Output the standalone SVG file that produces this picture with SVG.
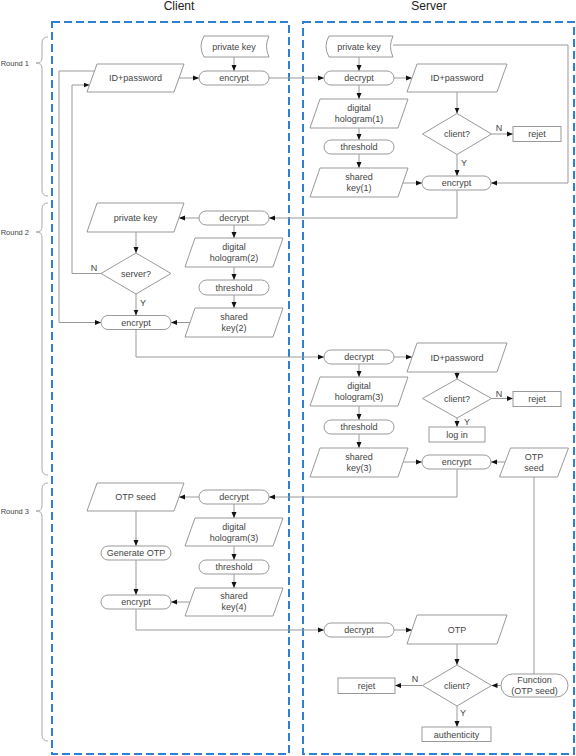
<svg xmlns="http://www.w3.org/2000/svg" width="576" height="756" viewBox="0 0 576 756">
<defs>
<style>
.s{fill:#fff;stroke:#999;stroke-width:1}
.t{font-family:"Liberation Sans",Arial,sans-serif;font-size:9px;fill:#444;text-anchor:middle}
.lb{font-family:"Liberation Sans",Arial,sans-serif;font-size:9px;fill:#444;text-anchor:middle}
.rd{font-family:"Liberation Sans",Arial,sans-serif;font-size:7.5px;fill:#444;text-anchor:end}
.ti{font-family:"Liberation Sans",Arial,sans-serif;font-size:12px;fill:#222;text-anchor:middle}
.c{fill:none;stroke:#999;stroke-width:1}
.br{fill:none;stroke:#aaa;stroke-width:1}
.lane{fill:none;stroke:#2f80d0;stroke-width:2;stroke-dasharray:8 4}
</style>
<marker id="ah" viewBox="0 0 6 6" refX="6" refY="3" markerWidth="6" markerHeight="6" markerUnits="userSpaceOnUse" orient="auto"><path d="M0,0.5 L6,3 L0,5.5 Z" fill="#111"/></marker>
</defs>
<rect width="576" height="756" fill="#fff"/>

<g id="lanes">
<rect class="lane" x="52" y="22" width="237" height="732"/>
<rect class="lane" x="303" y="22" width="271" height="732"/>
<text class="ti" x="179" y="10">Client</text>
<text class="ti" x="429" y="10">Server</text>
</g>

<g id="rounds">
<path class="br" d="M48,37 Q42,37 42,43 V58 Q42,63 36,63 Q42,63 42,68 V190 Q42,196 48,196"/>
<text class="rd" x="29" y="66">Round 1</text>
<path class="br" d="M48,203 Q42,203 42,209 V227 Q42,232 36,232 Q42,232 42,237 V469 Q42,475 48,475"/>
<text class="rd" x="29" y="235">Round 2</text>
<path class="br" d="M48,483 Q42,483 42,489 V506 Q42,511 36,511 Q42,511 42,516 V735 Q42,741 48,741"/>
<text class="rd" x="29" y="514">Round 3</text>
</g>

<g id="connectors" marker-end="url(#ah)">
<path class="c" d="M234,57 V71" marker-end="url(#ah)"/>
<path class="c" d="M179,78 H199" marker-end="url(#ah)"/>
<path class="c" d="M269,78 H324" marker-end="url(#ah)"/>
<path class="c" d="M359,57 V71" marker-end="url(#ah)"/>
<path class="c" d="M394,78 H412" marker-end="url(#ah)"/>
<path class="c" d="M359,85 V99" marker-end="url(#ah)"/>
<path class="c" d="M359,128 V140" marker-end="url(#ah)"/>
<path class="c" d="M359,154 V168" marker-end="url(#ah)"/>
<path class="c" d="M457,92 V113.5" marker-end="url(#ah)"/>
<path class="c" d="M491.5,134 H513" marker-end="url(#ah)"/>
<path class="c" d="M457,154.5 V176" marker-end="url(#ah)"/>
<path class="c" d="M403,183 H422" marker-end="url(#ah)"/>
<path class="c" d="M393,45 H568 V183 H491" marker-end="url(#ah)"/>
<path class="c" d="M457,190 V218 H269" marker-end="url(#ah)"/>
<path class="c" d="M199,218 H179" marker-end="url(#ah)"/>
<path class="c" d="M234,225 V238" marker-end="url(#ah)"/>
<path class="c" d="M234,267 V280" marker-end="url(#ah)"/>
<path class="c" d="M234,295 V308" marker-end="url(#ah)"/>
<path class="c" d="M136,232 V253" marker-end="url(#ah)"/>
<path class="c" d="M101,273.5 H72 V85 H89.5" marker-end="url(#ah)"/>
<path class="c" d="M136,294 V315.5" marker-end="url(#ah)"/>
<path class="c" d="M190,322.5 H171" marker-end="url(#ah)"/>
<path class="c" d="M94.5,71 H59 V322.5 H101" marker-end="url(#ah)"/>
<path class="c" d="M136,329.5 V357 H324" marker-end="url(#ah)"/>
<path class="c" d="M394,357 H412" marker-end="url(#ah)"/>
<path class="c" d="M359,364 V377" marker-end="url(#ah)"/>
<path class="c" d="M359,406 V420" marker-end="url(#ah)"/>
<path class="c" d="M359,434 V448" marker-end="url(#ah)"/>
<path class="c" d="M457,372 V379" marker-end="url(#ah)"/>
<path class="c" d="M491.5,398.5 H513" marker-end="url(#ah)"/>
<path class="c" d="M457,418 V427" marker-end="url(#ah)"/>
<path class="c" d="M403,462 H422" marker-end="url(#ah)"/>
<path class="c" d="M505,462 H491" marker-end="url(#ah)"/>
<path class="c" d="M457,469 V497 H269" marker-end="url(#ah)"/>
<path class="c" d="M199,497 H179" marker-end="url(#ah)"/>
<path class="c" d="M234,504 V518" marker-end="url(#ah)"/>
<path class="c" d="M234,546 V560" marker-end="url(#ah)"/>
<path class="c" d="M234,574 V588" marker-end="url(#ah)"/>
<path class="c" d="M136,511 V546" marker-end="url(#ah)"/>
<path class="c" d="M136,560 V595" marker-end="url(#ah)"/>
<path class="c" d="M190,602 H171" marker-end="url(#ah)"/>
<path class="c" d="M136,609 V630 H324" marker-end="url(#ah)"/>
<path class="c" d="M394,630 H412" marker-end="url(#ah)"/>
<path class="c" d="M457,644 V665" marker-end="url(#ah)"/>
<path class="c" d="M422.5,685.5 H395" marker-end="url(#ah)"/>
<path class="c" d="M457,706 V727" marker-end="url(#ah)"/>
<path class="c" d="M534,477 V674" marker-end="none"/>
<path class="c" d="M501,685.5 H491.5" marker-end="url(#ah)"/>
</g>

<g id="labels">
<text class="lb" x="499" y="131">N</text>
<text class="lb" x="464" y="166">Y</text>
<text class="lb" x="94" y="271">N</text>
<text class="lb" x="143" y="306">Y</text>
<text class="lb" x="499" y="397">N</text>
<text class="lb" x="467" y="425">Y</text>
<text class="lb" x="415" y="682">N</text>
<text class="lb" x="463" y="716">Y</text>
</g>

<!-- Client round 1 -->
<g id="c_pk1"><path class="s" d="M204,36 H269 Q264,46.5 269,57 H204 Q198,46.5 204,36 Z"/><text class="t" x="234" y="49.5">private key</text></g>
<g id="c_enc1"><rect class="s" x="199" y="71" width="70" height="14" rx="7"/><text class="t" x="234" y="81">encrypt</text></g>
<g id="c_id"><polygon class="s" points="97,64 184,64 174,92 87,92"/><text class="t" x="135.5" y="81">ID+password</text></g>

<!-- Server round 1 -->
<g id="s_pk1"><path class="s" d="M329,36 H393 Q388,46.5 393,57 H329 Q323,46.5 329,36 Z"/><text class="t" x="359" y="49.5">private key</text></g>
<g id="s_dec1"><rect class="s" x="324" y="71" width="70" height="14" rx="7"/><text class="t" x="359" y="81">decrypt</text></g>
<g id="s_id1"><polygon class="s" points="417,64 507,64 497,92 407,92"/><text class="t" x="457" y="81">ID+password</text></g>
<g id="s_holo1"><polygon class="s" points="320,99 408,99 398,128 310,128"/><text class="t" x="359" y="111">digital</text><text class="t" x="359" y="122">hologram(1)</text></g>
<g id="s_th1"><rect class="s" x="324" y="140" width="70" height="14" rx="7"/><text class="t" x="359" y="150">threshold</text></g>
<g id="s_sk1"><polygon class="s" points="320,168 408,168 398,197 310,197"/><text class="t" x="359" y="180">shared</text><text class="t" x="359" y="191">key(1)</text></g>
<g id="s_cl1"><polygon class="s" points="422.5,134 457,113.5 491.5,134 457,154.5"/><text class="t" x="457" y="137">client?</text></g>
<g id="s_rej1"><rect class="s" x="513" y="126.5" width="48" height="15"/><text class="t" x="537" y="137">rejet</text></g>
<g id="s_enc1"><rect class="s" x="422" y="176" width="69" height="14" rx="7"/><text class="t" x="456.5" y="186">encrypt</text></g>

<!-- Client round 2 -->
<g id="c_pk2"><polygon class="s" points="97,203 184,203 174,232 87,232"/><text class="t" x="135.5" y="220.5">private key</text></g>
<g id="c_dec2"><rect class="s" x="199" y="211" width="70" height="14" rx="7"/><text class="t" x="234" y="221">decrypt</text></g>
<g id="c_holo2"><polygon class="s" points="195,238 283,238 273,267 185,267"/><text class="t" x="234" y="250">digital</text><text class="t" x="234" y="261">hologram(2)</text></g>
<g id="c_th2"><rect class="s" x="199" y="280" width="70" height="15" rx="7.5"/><text class="t" x="234" y="290.5">threshold</text></g>
<g id="c_sk2"><polygon class="s" points="195,308 283,308 273,337 185,337"/><text class="t" x="234" y="320">shared</text><text class="t" x="234" y="331">key(2)</text></g>
<g id="c_srv"><polygon class="s" points="101,273.5 136,253 171,273.5 136,294"/><text class="t" x="136" y="276.5">server?</text></g>
<g id="c_enc2"><rect class="s" x="101" y="315.5" width="70" height="14" rx="7"/><text class="t" x="136" y="325.5">encrypt</text></g>

<!-- Server round 2 -->
<g id="s_dec2"><rect class="s" x="324" y="350" width="70" height="14" rx="7"/><text class="t" x="359" y="360">decrypt</text></g>
<g id="s_id2"><polygon class="s" points="417,343 507,343 497,372 407,372"/><text class="t" x="457" y="360.5">ID+password</text></g>
<g id="s_holo3"><polygon class="s" points="320,377 408,377 398,406 310,406"/><text class="t" x="359" y="389">digital</text><text class="t" x="359" y="400">hologram(3)</text></g>
<g id="s_th2"><rect class="s" x="324" y="420" width="70" height="14" rx="7"/><text class="t" x="359" y="430">threshold</text></g>
<g id="s_sk3"><polygon class="s" points="320,448 408,448 398,477 310,477"/><text class="t" x="359" y="460">shared</text><text class="t" x="359" y="471">key(3)</text></g>
<g id="s_cl2"><polygon class="s" points="422.5,398.5 457,379 491.5,398.5 457,418"/><text class="t" x="457" y="401.5">client?</text></g>
<g id="s_rej2"><rect class="s" x="513" y="391.5" width="48" height="15"/><text class="t" x="537" y="402">rejet</text></g>
<g id="s_login"><rect class="s" x="429" y="427" width="56" height="15"/><text class="t" x="457" y="437.5">log in</text></g>
<g id="s_enc2"><rect class="s" x="422" y="455" width="69" height="14" rx="7"/><text class="t" x="456.5" y="465">encrypt</text></g>
<g id="s_otpseed"><polygon class="s" points="510.5,448 568.5,448 557.5,477 499.5,477"/><text class="t" x="534" y="460">OTP</text><text class="t" x="534" y="471">seed</text></g>

<!-- Client round 3 -->
<g id="c_otp"><polygon class="s" points="97,483 184,483 174,511 87,511"/><text class="t" x="135.5" y="500">OTP seed</text></g>
<g id="c_dec3"><rect class="s" x="199" y="490" width="70" height="14" rx="7"/><text class="t" x="234" y="500">decrypt</text></g>
<g id="c_holo3"><polygon class="s" points="195,518 283,518 273,546 185,546"/><text class="t" x="234" y="529.5">digital</text><text class="t" x="234" y="540.5">hologram(3)</text></g>
<g id="c_gen"><rect class="s" x="101" y="546" width="70" height="14" rx="7"/><text class="t" x="136" y="556">Generate OTP</text></g>
<g id="c_th3"><rect class="s" x="199" y="560" width="70" height="14" rx="7"/><text class="t" x="234" y="570">threshold</text></g>
<g id="c_sk4"><polygon class="s" points="195,588 283,588 273,616 185,616"/><text class="t" x="234" y="599">shared</text><text class="t" x="234" y="610">key(4)</text></g>
<g id="c_enc3"><rect class="s" x="101" y="595" width="70" height="14" rx="7"/><text class="t" x="136" y="605">encrypt</text></g>

<!-- Server round 3 -->
<g id="s_dec3"><rect class="s" x="324" y="623" width="70" height="14" rx="7"/><text class="t" x="359" y="633">decrypt</text></g>
<g id="s_otp"><polygon class="s" points="417,615 507,615 497,644 407,644"/><text class="t" x="457" y="632.5">OTP</text></g>
<g id="s_cl3"><polygon class="s" points="422.5,685.5 457,665 491.5,685.5 457,706"/><text class="t" x="457" y="688.5">client?</text></g>
<g id="s_rej3"><rect class="s" x="338" y="678" width="57" height="15.5"/><text class="t" x="366.5" y="689">rejet</text></g>
<g id="s_auth"><rect class="s" x="422" y="727" width="69" height="14.5"/><text class="t" x="456.5" y="737.5">authenticity</text></g>
<g id="s_func"><rect class="s" x="501" y="674" width="67" height="23" rx="11.5"/><text class="t" x="534.5" y="683">Function</text><text class="t" x="534.5" y="694">(OTP seed)</text></g>
</svg>
